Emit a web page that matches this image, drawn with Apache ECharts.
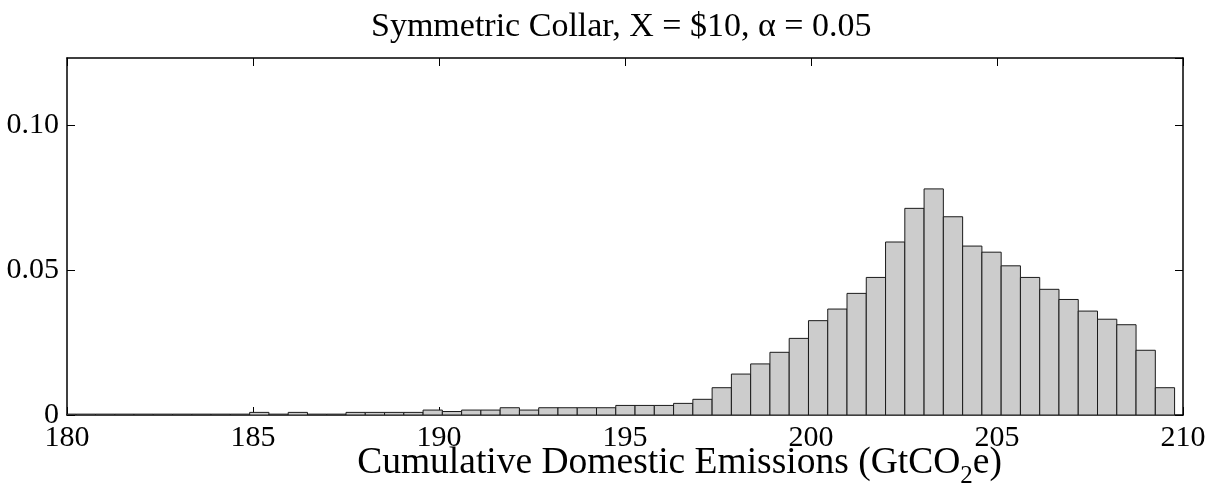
<!DOCTYPE html>
<html>
<head>
<meta charset="utf-8">
<script src="https://cdn.jsdelivr.net/npm/echarts@6/dist/echarts.min.js"></script>
<style>
  html, body { margin: 0; padding: 0; background: #fff; }
  #main { width: 1209px; height: 497px; }
</style>
</head>
<body>
<div id="main"></div>
<script>
// histogram bins (GtCO2e), first bin starts a bit left of 180 and is clipped
var binStart = 179.73
var binWidth = 0.518
// relative frequency of each bin
var freq = [
  0.0003, 0.0003, 0.0003, 0.0003, 0.0003, 0.0003, 0.0003, 0.0003, 0.0003, 0.0003,
  0.0009, 0.0003, 0.0009, 0.0003, 0.0003, 0.0009, 0.0009, 0.0009, 0.0009, 0.0017,
  0.0012, 0.0017, 0.0017, 0.0025, 0.0017, 0.0025, 0.0025, 0.0025, 0.0025, 0.0033,
  0.0033, 0.0033, 0.0040, 0.0054, 0.0094, 0.0141, 0.0176, 0.0216, 0.0264, 0.0325,
  0.0365, 0.0419, 0.0474, 0.0596, 0.0712, 0.0779, 0.0683, 0.0582, 0.0561, 0.0514,
  0.0474, 0.0433, 0.0398, 0.0358, 0.0330, 0.0311, 0.0223, 0.0094
]
var xTicks = [180, 185, 190, 195, 200, 205, 210]
var yTicks = [0, 0.05, 0.10]
var yMax = 0.123

var font = 'Liberation Serif, Times New Roman, serif'

var bins = freq.map(function (v, i) {
  return [binStart + i * binWidth, binStart + (i + 1) * binWidth, v]
})

var myChart = echarts.init(document.getElementById('main'))

var tickStyle = { show: true, inside: true, length: 8, lineStyle: { color: '#000', width: 1 } }
var lineStyle = { show: true, onZero: false, lineStyle: { color: '#000', width: 1.5 } }

myChart.setOption({
  animation: false,
  backgroundColor: '#fff',
  title: {
    text: 'Symmetric Collar, X = $10, \u03b1 = 0.05',
    left: 366,
    top: 5,
    textStyle: { fontFamily: font, fontSize: 34, fontWeight: 'normal', color: '#000' }
  },
  grid: { left: 67, right: 26, top: 58, bottom: 82, outerBoundsMode: 'none', containLabel: false },
  xAxis: [
    {
      type: 'value',
      min: xTicks[0],
      max: xTicks[xTicks.length - 1],
      interval: 5,
      axisLine: lineStyle,
      axisTick: tickStyle,
      splitLine: { show: false },
      axisLabel: { fontFamily: font, fontSize: 30, color: '#000', margin: 8 },
      name: 'Cumulative Domestic Emissions (GtCO{sub|2}e)',
      nameLocation: 'middle',
      nameGap: 23,
      nameMoveOverlap: false,
      nameTextStyle: {
        fontFamily: font, fontSize: 37.5, color: '#000',
        padding: [0, 0, 0, 109],
        rich: { sub: { fontFamily: font, fontSize: 25, color: '#000', padding: [26, 0, 0, 0] } }
      }
    },
    {
      type: 'value',
      position: 'top',
      min: xTicks[0],
      max: xTicks[xTicks.length - 1],
      interval: 5,
      axisLine: lineStyle,
      axisTick: tickStyle,
      axisLabel: { show: false },
      splitLine: { show: false }
    }
  ],
  yAxis: [
    {
      type: 'value',
      min: yTicks[0],
      max: yMax,
      interval: 0.05,
      axisLine: lineStyle,
      axisTick: tickStyle,
      splitLine: { show: false },
      axisLabel: {
        fontFamily: font, fontSize: 30, color: '#000', margin: 8,
        showMaxLabel: false,
        formatter: function (v) {
          return v === 0 ? '0' : v.toFixed(2)
        }
      }
    },
    {
      type: 'value',
      position: 'right',
      min: yTicks[0],
      max: yMax,
      interval: 0.05,
      axisLine: lineStyle,
      axisTick: tickStyle,
      axisLabel: { show: false },
      splitLine: { show: false }
    }
  ],
  series: [
    {
      type: 'custom',
      clip: true,
      data: bins,
      encode: { x: [0, 1], y: 2 },
      renderItem: function (params, api) {
        var p0 = api.coord([api.value(0), api.value(2)])
        var p1 = api.coord([api.value(1), 0])
        return {
          type: 'rect',
          shape: { x: p0[0], y: p0[1], width: p1[0] - p0[0], height: p1[1] - p0[1] },
          style: { fill: '#cccccc', stroke: '#1a1a1a', lineWidth: 1 }
        }
      }
    }
  ]
})
</script>
</body>
</html>
